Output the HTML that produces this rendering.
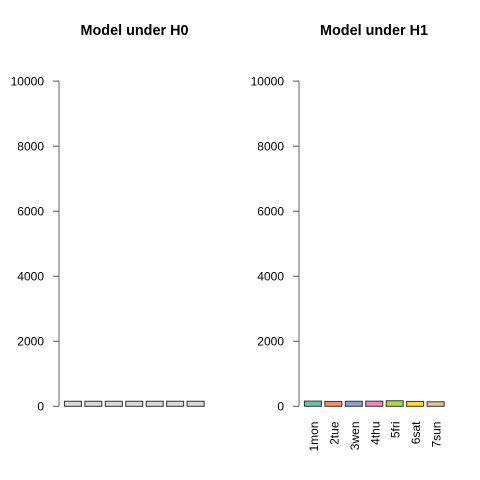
<!DOCTYPE html>
<html>
<head>
<meta charset="utf-8">
<style>
html,body{margin:0;padding:0;background:#fff;width:480px;height:480px;overflow:hidden}
svg{display:block}
text{font-family:"Liberation Sans",sans-serif;fill:#000}
</style>
</head>
<body>
<svg id="chart" xmlns="http://www.w3.org/2000/svg" width="480" height="480" viewBox="0 0 480 480"></svg>
<script>
const categories = ['1mon', '2tue', '3wen', '4thu', '5fri', '6sat', '7sun'];
const h0Values = [155, 155, 155, 155, 155, 155, 155];
const h1Values = [160, 150, 155, 158, 170, 150, 140];
const yTicks = [0, 2000, 4000, 6000, 8000, 10000];
const h1Colors = ['#66c2a5', '#fc8d62', '#8da0cb', '#e78ac3', '#a6d854', '#ffd92f', '#e5c494'];
const h0Color = '#d9d9d9';

const NS = 'http://www.w3.org/2000/svg';
const svg = document.getElementById('chart');

function yScale(v) { return 406.3 - v * 0.03252; }
function xScale(originX, i) { return originX + 5.4 + i * 20.45; }

function add(parent, tag, attrs, text) {
  const el = document.createElementNS(NS, tag);
  for (const k in attrs) el.setAttribute(k, attrs[k]);
  if (text !== undefined) el.textContent = text;
  parent.appendChild(el);
  return el;
}

function drawPanel(prefix, title, titleX, originX, values, colors, showLabels) {
  const g = add(svg, 'g', {});
  
  

  const t = add(g, 'text', {x: titleX, y: 35, 'text-anchor': 'middle', 'font-size': 14.4, 'font-weight': 'bold'}, title);
  
  

  const axis = add(g, 'line', {x1: originX, x2: originX, y1: yScale(yTicks[yTicks.length - 1]), y2: yScale(0), stroke: '#7f7f7f', 'stroke-width': 1.2});
  
  

  yTicks.forEach(function (v) {
    const y = yScale(v);
    const tick = add(g, 'line', {x1: originX - 6, x2: originX, y1: y, y2: y, stroke: '#555', 'stroke-width': 1});
    
    
    const label = add(g, 'text', {x: originX - 15, y: y + 4.2, 'text-anchor': 'end', 'font-size': 12}, String(v));
    
    
  });

  values.forEach(function (v, i) {
    const x = xScale(originX, i);
    const top = yScale(v);
    const bar = add(g, 'rect', {x: x, y: top, width: 17, height: yScale(0) - top, fill: colors[i], stroke: '#333', 'stroke-width': 1});
    
    
    if (showLabels) {
      const cx = x + 8.5 + 5;
      const label = add(g, 'text', {x: cx, y: 421.5, 'font-size': 12, 'text-anchor': 'end', transform: 'rotate(-90 ' + cx + ' 421.5)'}, categories[i]);
      
      
    }
  });
}

drawPanel('h0', 'Model under H0', 134.5, 59, h0Values, h0Values.map(function () { return h0Color; }), false);
drawPanel('h1', 'Model under H1', 374, 299, h1Values, h1Colors, true);
</script>
</body>
</html>
